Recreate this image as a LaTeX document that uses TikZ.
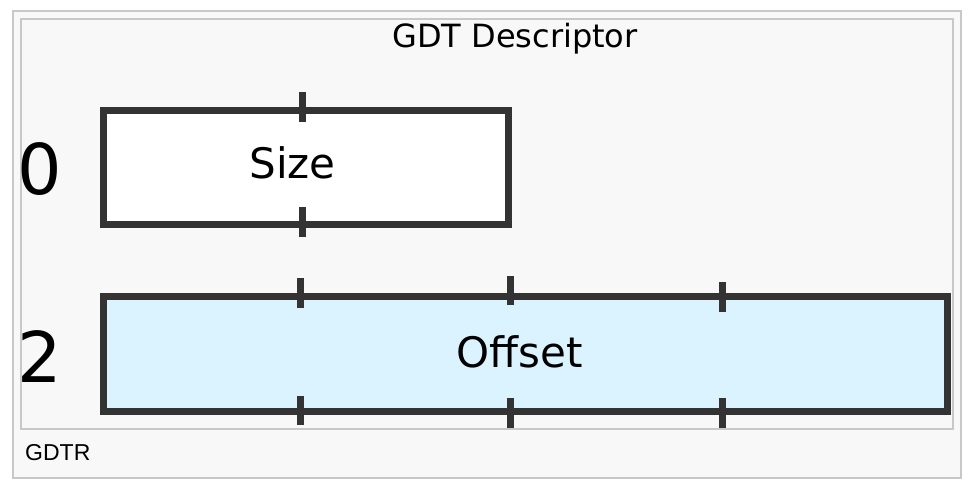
\documentclass[tikz,border=0pt]{standalone}
\usepackage{fontspec}
\setmainfont{DejaVu Sans}
\newfontfamily\captionfont{Liberation Sans}
\definecolor{framegray}{HTML}{C8C8C8}
\definecolor{bggray}{HTML}{F8F8F8}
\definecolor{boxline}{HTML}{333333}
\definecolor{offsetblue}{HTML}{DAF3FE}
\tikzset{
  field/.style={draw=boxline, line width=7pt, inner sep=0pt, anchor=center},
  tickmark/.style={draw=boxline, line width=7pt},
  frameline/.style={draw=framegray, line width=2pt},
  bigtxt/.style={inner sep=0pt, anchor=base, font=\fontsize{70}{84}\selectfont},
  fieldtxt/.style={inner sep=0pt, anchor=base, font=\fontsize{42}{50}\selectfont},
}
\begin{document}
\begin{tikzpicture}[x=1pt, y=-1pt]
\useasboundingbox (0,0) rectangle (978,490);
\fill[white] (0,0) rectangle (978,490);
% outer caption frame
\filldraw[frameline, fill=bggray] (13,11) rectangle (961,478);
% inner image frame
\filldraw[frameline, fill=bggray] (21,19) rectangle (953,429);
% title
\node[inner sep=0pt, anchor=base, font=\fontsize{32}{38}\selectfont] (title) at (515,47) {GDT Descriptor};
% fields
\node[field, fill=white, minimum width=405pt, minimum height=114pt] (size) at (306,167) {};
\node[field, fill=offsetblue, minimum width=844pt, minimum height=115pt] (offset) at (525.5,353.5) {};
% ticks on Size
\draw[tickmark] (302,92) -- (302,122);
\draw[tickmark] (302,207) -- (302,237);
% ticks on Offset
\draw[tickmark] (300,278) -- (300,308);
\draw[tickmark] (510.5,276) -- (510.5,305);
\draw[tickmark] (722,282) -- (722,312);
\draw[tickmark] (300,396) -- (300,425);
\draw[tickmark] (510.5,398) -- (510.5,428);
\draw[tickmark] (722,398) -- (722,428);
% labels
\node[fieldtxt] (sizetxt) at (292.5,178) {Size};
\node[fieldtxt] (offsettxt) at (520,367) {Offset};
\node[bigtxt] (zero) at (39.5,194) {0};
\node[bigtxt] (two) at (39.5,382) {2};
% caption
\node[inner sep=0pt, anchor=base west, font=\captionfont\fontsize{23}{28}\selectfont] (caption) at (25,460) {GDTR};
\end{tikzpicture}
\end{document}
